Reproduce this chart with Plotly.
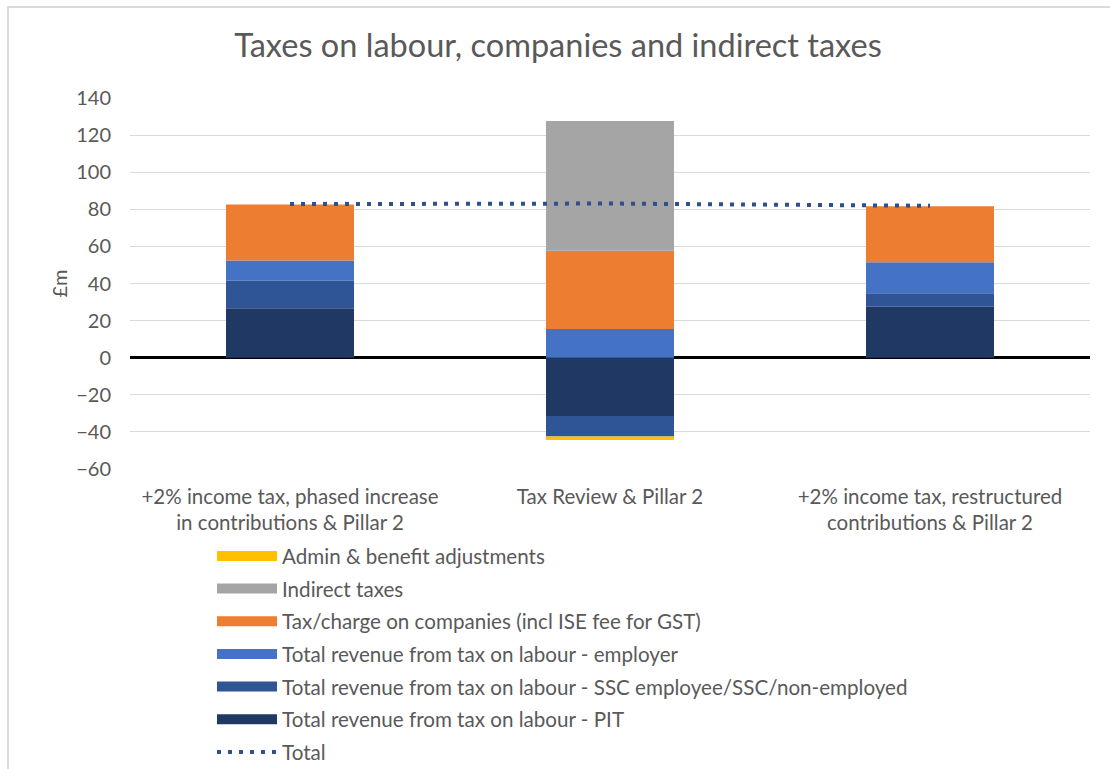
import plotly.graph_objects as go

categories = [
    "+2% income tax, phased increase<br>in contributions & Pillar 2",
    "Tax Review & Pillar 2",
    "+2% income tax, restructured<br>contributions & Pillar 2",
]
pit = [26.6, -31.4, 27.5]
ssc = [14.9, -11.1, 7.2]
employer = [10.9, 15.5, 16.8]
companies = [30.2, 42.1, 30.2]
indirect = [0, 70.0, 0]
admin = [0, -1.8, 0]
total = [82.8, 83.1, 81.9]

series = [
    ("Total revenue from tax on labour - PIT", pit, "#203864", 6),
    ("Total revenue from tax on labour - SSC employee/SSC/non-employed", ssc, "#2F5597", 5),
    ("Total revenue from tax on labour - employer", employer, "#4472C4", 4),
    ("Tax/charge on companies (incl ISE fee for GST)", companies, "#ED7D31", 3),
    ("Indirect taxes", indirect, "#A5A5A5", 2),
    ("Admin & benefit adjustments", admin, "#FFC000", 1),
]

FONT = "Lato, 'Open Sans', sans-serif"
GREY = "#595959"

fig = go.Figure()
for name, vals, col, rank in series:
    fig.add_trace(go.Bar(x=categories, y=vals, name=name, marker=dict(color=col, line=dict(width=0)),
                         showlegend=False))
    fig.add_trace(go.Scatter(x=[None], y=[None], mode="lines", name=name,
                             line=dict(color=col, width=10), legendrank=rank, legendgroup=name))

fig.add_trace(go.Scatter(x=categories, y=total, mode="lines", name="Total",
                         line=dict(color="#2F4F8F", width=4, dash="4px,7px"), legendrank=7, legendgroup="Total"))

L, R, T, B = 130, 20, 98, 300
W, H = 1110, 769
pw, ph = W - L - R, H - T - B

fig.update_layout(
    width=W, height=H,
    margin=dict(l=L, r=R, t=T, b=B, autoexpand=False),
    paper_bgcolor="white", plot_bgcolor="white",
    barmode="relative", bargap=0.6,
    font=dict(family=FONT, color=GREY, size=20),
    title=dict(text="Taxes on labour, companies and indirect taxes", x=558 / W, xanchor="center",
               y=1 - 46 / H, yanchor="middle", font=dict(size=32.5, color=GREY, family=FONT)),
    xaxis=dict(showgrid=False, showline=False, ticks="outside", tickcolor="white", ticklen=9,
               tickfont=dict(size=20.5, color=GREY), automargin=False),
    yaxis=dict(range=[-60, 140], dtick=20, showgrid=True, gridcolor="#D9D9D9", gridwidth=1,
               zeroline=True, zerolinecolor="black", zerolinewidth=2.5,
               tickfont=dict(size=20, color=GREY), ticks="outside", tickcolor="white", ticklen=14,
               title=dict(text="£m", font=dict(size=20, color=GREY), standoff=3), automargin=False),
    legend=dict(x=(212 - L) / pw, y=(H - B - 536) / ph, xanchor="left", yanchor="top",
                traceorder="grouped", tracegroupgap=2.9, itemwidth=60,
                font=dict(size=20.6, color=GREY), bgcolor="rgba(0,0,0,0)"),
    shapes=[dict(type="rect", xref="paper", yref="paper",
                 x0=(8 - L) / pw, x1=(W + 10 - L) / pw,
                 y0=(H - B - (H + 10)) / ph, y1=(H - B - 7) / ph,
                 line=dict(color="#D9D9D9", width=2), layer="below")],
)

fig.write_html("out.html")
